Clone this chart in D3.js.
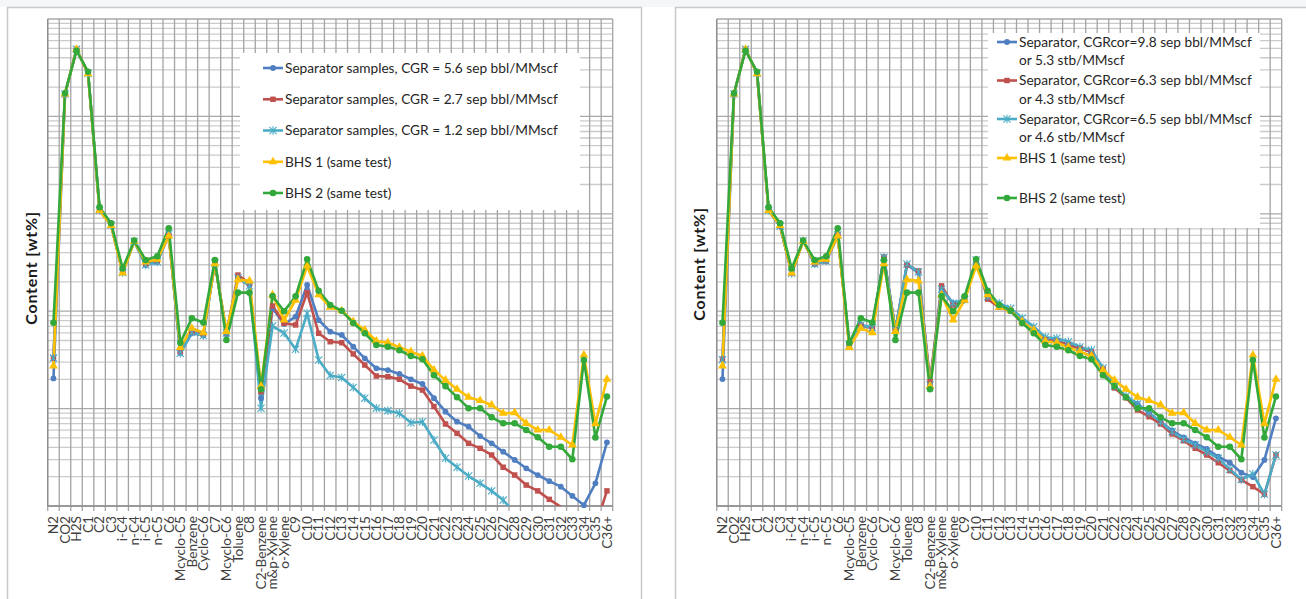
<!DOCTYPE html>
<html>
<head>
<meta charset="utf-8">
<script src="https://cdn.jsdelivr.net/npm/d3@7"></script>
<style>
  html, body { margin: 0; padding: 0; background: #fff; }
  svg { display: block; font-family: Lato, "Open Sans", "Noto Sans", sans-serif; }
</style>
</head>
<body>
<svg id="chart" width="1306" height="599"></svg>
<script>
// Components on the category axis
const categories = ["N2","CO2","H2S","C1","C2","C3","i-C4","n-C4","i-C5","n-C5","C6",
  "Mcyclo-C5","Benzene","Cyclo-C6","C7","Mcyclo-C6","Toluene","C8","C2-Benzene",
  "m&p-Xylene","o-Xylene","C9","C10","C11","C12","C13","C14","C15","C16","C17","C18",
  "C19","C20","C21","C22","C23","C24","C25","C26","C27","C28","C29","C30","C31","C32",
  "C33","C34","C35","C36+"];

// Bottom-hole samples (same in both panels), wt%
const bhs1 = [0.0274,17.0,48.9,27.5,1.08,0.758,0.247,0.519,0.320,0.341,0.591,0.0424,0.0668,0.0601,0.307,0.0619,0.211,0.205,0.0170,0.147,0.0812,0.130,0.291,0.148,0.110,0.101,0.0780,0.0641,0.0494,0.0475,0.0426,0.0384,0.0347,0.0249,0.0196,0.0158,0.0131,0.0121,0.0109,0.00895,0.00908,0.00706,0.00603,0.00603,0.00508,0.00423,0.0355,0.0070,0.0200];
const bhs2 = [0.0762,17.3,47.3,28.7,1.17,0.799,0.275,0.530,0.335,0.366,0.710,0.0475,0.0845,0.0766,0.335,0.0506,0.155,0.155,0.0158,0.143,0.0998,0.142,0.341,0.162,0.116,0.101,0.0757,0.0593,0.0450,0.0432,0.0397,0.0347,0.0321,0.0220,0.0170,0.0131,0.0101,0.0101,0.00814,0.00706,0.00706,0.00603,0.00508,0.00406,0.00406,0.00302,0.0316,0.00505,0.0133];

// Separator recombinations at measured CGR, wt%
const sepCgr56 = [0.0204,17.0,48.9,27.7,1.09,0.767,0.249,0.522,0.298,0.320,0.620,0.0372,0.0597,0.0563,0.320,0.0583,0.218,0.186,0.0128,0.107,0.0739,0.0878,0.186,0.0812,0.0616,0.0570,0.0432,0.0328,0.0259,0.0249,0.0227,0.0200,0.0179,0.0128,0.00929,0.00734,0.00652,0.00523,0.00440,0.00361,0.00297,0.00244,0.00208,0.00180,0.00158,0.00127,0.00102,0.00171,0.00451];
const sepCgr27 = [0.0328,17.0,48.9,27.7,1.09,0.767,0.256,0.525,0.305,0.331,0.591,0.0386,0.0612,0.0583,0.313,0.0597,0.235,0.195,0.0149,0.113,0.0751,0.0722,0.155,0.0593,0.0486,0.0475,0.0364,0.0280,0.0216,0.0213,0.0200,0.0170,0.0155,0.0105,0.00695,0.00557,0.00440,0.00391,0.00334,0.00250,0.00208,0.00164,0.00143,0.00117,0.00098,0.00075,0.00070,0.00061,0.00143];
const sepCgr12 = [0.0330,17.0,48.9,27.7,1.09,0.767,0.249,0.522,0.298,0.320,0.620,0.0369,0.0605,0.0563,0.313,0.0597,0.219,0.182,0.0101,0.0705,0.0597,0.0406,0.0952,0.0316,0.0219,0.0209,0.0165,0.0128,0.0101,0.00952,0.00895,0.00717,0.00734,0.00476,0.00309,0.00250,0.00203,0.00171,0.00143,0.00115,0.00085,null,null,null,null,null,null,null,null];

// Separator recombinations at corrected CGR, wt%
const sepCor98 = [0.0201,17.0,48.9,27.7,1.09,0.750,0.245,0.530,0.305,0.328,0.606,0.0450,0.0722,0.0677,0.358,0.0641,0.298,0.249,0.0175,0.168,0.121,0.130,0.335,0.141,0.113,0.103,0.0780,0.0641,0.0515,0.0494,0.0450,0.0416,0.0384,0.0259,0.0168,0.0131,0.0112,0.00895,0.00734,0.00596,0.00505,0.00438,0.00385,0.00321,0.00278,0.00220,0.00198,0.00297,0.00795];
const sepCor63 = [0.0321,17.0,48.9,27.7,1.09,0.750,0.245,0.530,0.305,0.328,0.600,0.0450,0.0715,0.0670,0.358,0.0641,0.298,0.259,0.0189,0.182,0.116,0.130,0.335,0.133,0.110,0.1005,0.0757,0.0619,0.0506,0.0489,0.0450,0.0419,0.0381,0.0254,0.0163,0.0129,0.00967,0.00826,0.00695,0.00549,0.00468,0.00391,0.00334,0.00278,0.00231,0.00185,0.00158,0.00132,0.00334];
const sepCor65 = [0.0318,17.0,48.9,27.7,1.09,0.750,0.245,0.530,0.305,0.328,0.606,0.0450,0.0722,0.0677,0.358,0.0641,0.305,0.253,0.0175,0.168,0.121,0.132,0.335,0.141,0.121,0.107,0.0852,0.0694,0.0540,0.0527,0.0486,0.0429,0.0400,0.0261,0.0170,0.0135,0.0112,0.00901,0.00734,0.00579,0.00484,0.00423,0.00361,0.00309,0.00238,0.00187,0.00213,0.00132,0.00334];

// Legend texts
const legendLeft = [
  ["Separator samples, CGR = 5.6 sep bbl/MMscf"],
  ["Separator samples, CGR = 2.7 sep bbl/MMscf"],
  ["Separator samples, CGR = 1.2 sep bbl/MMscf"],
  ["BHS 1 (same test)"],
  ["BHS 2 (same test)"]
];
const legendRight = [
  ["Separator, CGRcor=9.8 sep bbl/MMscf", "or 5.3 stb/MMscf"],
  ["Separator, CGRcor=6.3 sep bbl/MMscf", "or 4.3 stb/MMscf"],
  ["Separator, CGRcor=6.5 sep bbl/MMscf", "or 4.6 stb/MMscf"],
  ["BHS 1 (same test)"],
  ["BHS 2 (same test)"]
];
const yTitle = "Content [wt%]";
const yDomain = [0.001, 100];

// Series styles: colour and marker
const styles = [
  { color: "#4F7EC1", marker: "circle" },
  { color: "#C0504D", marker: "square" },
  { color: "#4BACC6", marker: "star" },
  { color: "#FFC000", marker: "triangle" },
  { color: "#33A83B", marker: "dot" }
];

const W = 1306, H = 599;
const svg = d3.select("#chart");

svg.append("rect").attr("x", 0).attr("y", 0).attr("width", W).attr("height", 7).attr("fill", "#f5f6f9");

// Chart frames
svg.append("path").attr("d", "M7.5,599V7.5H641.5V599")
  .attr("fill", "#fff").attr("stroke", "#c9c9c9").attr("stroke-width", 1.5);
svg.append("path").attr("d", "M675.5,599V7.5H1306")
  .attr("fill", "none").attr("stroke", "#c9c9c9").attr("stroke-width", 1.5);

function drawMarker(g, type, color, x, y) {
  if (type === "star") {
    const s = 3.6;
    g.append("path")
      .attr("d", `M${x - s},${y - s}L${x + s},${y + s}M${x - s},${y + s}L${x + s},${y - s}M${x},${y - s - 0.6}V${y + s + 0.6}`)
      .attr("stroke", color).attr("stroke-width", 1.1).attr("fill", "none");
    return;
  }
  const sym = { circle: d3.symbolCircle, dot: d3.symbolCircle, square: d3.symbolSquare, triangle: d3.symbolTriangle }[type];
  const size = { circle: 26, dot: 34, square: 30, triangle: 34 }[type];
  g.append("path")
    .attr("d", d3.symbol().type(sym).size(size)())
    .attr("transform", `translate(${x},${y})`)
    .attr("fill", color);
}

function drawPanel(cfg) {
  const x0 = cfg.x0, x1 = cfg.x0 + 565, y0 = 19, y1 = 506;
  const x = d3.scaleBand().domain(categories).range([x0, x1]);
  const y = d3.scaleLog().domain(yDomain).range([y1, y0]);
  const g = svg.append("g");

  // Horizontal grid (log decades and sub-decades)
  const yTicks = y.ticks();
  yTicks.forEach(v => {
    const major = Math.abs(Math.log10(v) - Math.round(Math.log10(v))) < 1e-9;
    g.append("line")
      .attr("x1", x0).attr("x2", x1).attr("y1", y(v)).attr("y2", y(v))
      .attr("stroke", major ? "#a9a9a9" : "#cbcbcb").attr("stroke-width", 1.3);
  });

  // Vertical grid at category boundaries, extended as tick marks
  const bounds = categories.map(c => x(c)).concat([x1]);
  bounds.forEach(bx => {
    g.append("line")
      .attr("x1", bx).attr("x2", bx).attr("y1", y0).attr("y2", y1 + 5)
      .attr("stroke", "#a3a3a3").attr("stroke-width", 1.3);
  });

  // Axis lines
  g.append("line").attr("x1", x0).attr("x2", x0).attr("y1", y0).attr("y2", y1)
    .attr("stroke", "#8c8c8c").attr("stroke-width", 1.3);
  g.append("line").attr("x1", x0).attr("x2", x1).attr("y1", y1).attr("y2", y1)
    .attr("stroke", "#8c8c8c").attr("stroke-width", 1.3);

  // Category labels
  const cx = c => x(c) + x.bandwidth() / 2;
  categories.forEach(c => {
    g.append("text")
      .attr("transform", `translate(${cx(c)},${y1 + 10}) rotate(-90)`)
      .attr("text-anchor", "end").attr("dy", "0.35em")
      .attr("font-size", 13.6).attr("fill", "#404040")
      .text(c);
  });

  // Y title
  g.append("text")
    .attr("transform", `translate(${cfg.titleX},${cfg.titleY}) rotate(-90)`)
    .attr("text-anchor", "middle").attr("font-size", 16).attr("font-weight", "bold")
    .attr("letter-spacing", "0.8px")
    .attr("fill", "#1a1a1a").text(yTitle);

  // Series
  const clipId = "clip" + cfg.id;
  svg.append("defs").append("clipPath").attr("id", clipId)
    .append("rect").attr("x", x0).attr("y", y0).attr("width", x1 - x0).attr("height", y1 - y0);
  const sg = g.append("g").attr("clip-path", `url(#${clipId})`);
  const line = d3.line()
    .defined(d => d.v != null)
    .x(d => cx(d.c)).y(d => y(d.v));
  cfg.series.forEach((vals, i) => {
    const st = styles[i];
    const pts = categories.map((c, k) => ({ c, v: vals[k] }));
    sg.append("path").datum(pts).attr("d", line)
      .attr("fill", "none").attr("stroke", st.color).attr("stroke-width", 2.6)
      .attr("stroke-linejoin", "round");
    const mg = g.append("g");
    pts.filter(p => p.v != null && p.v >= yDomain[0] && p.v <= yDomain[1])
      .forEach(p => drawMarker(mg, st.marker, st.color, cx(p.c), y(p.v)));
  });

  // Legend
  const L = cfg.legend;
  g.append("rect").attr("x", L.x).attr("y", L.y).attr("width", L.w).attr("height", L.h).attr("fill", "#fff");
  L.items.forEach((lines, i) => {
    const st = styles[i];
    const ly = L.rows[i];
    g.append("line").attr("x1", L.sx).attr("x2", L.sx + 20).attr("y1", ly).attr("y2", ly)
      .attr("stroke", st.color).attr("stroke-width", 2.6);
    drawMarker(g, st.marker, st.color, L.sx + 10, ly);
    lines.forEach((t, j) => {
      g.append("text").attr("x", L.sx + 22).attr("y", ly + j * L.lineGap).attr("dy", "0.35em")
        .attr("font-size", L.fs).attr("fill", "#262626").text(t);
    });
  });
}

drawPanel({
  id: "L", x0: 47.7, titleX: 37, titleY: 268,
  series: [sepCgr56, sepCgr27, sepCgr12, bhs1, bhs2],
  legend: { x: 240, y: 53, w: 340, h: 157, sx: 263, fs: 13.7, lineGap: 18.5,
            rows: [68, 99.3, 130.5, 161.8, 193], items: legendLeft }
});
drawPanel({
  id: "R", x0: 716.7, titleX: 705, titleY: 264,
  series: [sepCor98, sepCor63, sepCor65, bhs1, bhs2],
  legend: { x: 988, y: 33, w: 272, h: 195, sx: 997, fs: 13.7, lineGap: 18.5,
            rows: [42, 80.5, 119, 158, 198], items: legendRight }
});
</script>
</body>
</html>
